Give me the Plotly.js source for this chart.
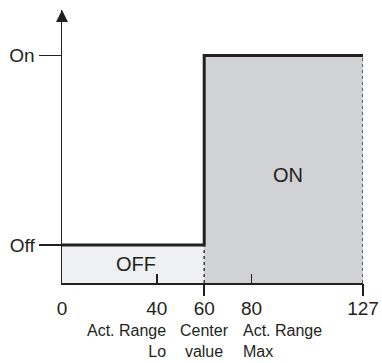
<!DOCTYPE html>
<html>
<head>
<meta charset="utf-8">
<script src="https://cdn.plot.ly/plotly-3.0.1.min.js"></script>
<style>html,body{margin:0;padding:0;background:#fff;}#chart{width:382px;height:363px;}</style>
</head>
<body>
<div id="chart"></div>
<script>
// Data
const stepX = [0, 60, 127];          // Off until the center value, On from there to max
const levelNames = ['Off', 'On'];
const levelValues = [1, 6];           // encoded output levels
const stepY = [levelValues[0], levelValues[1], levelValues[1]];
const tickValues = [0, 40, 60, 80, 127];
const tickLabels = ['0', '40', '60', '80', '127'];
const innerTicks = [40, 80, 127];
const outerTicks = [60, 127];
const offRangeX = [0, 60];
const onRangeX = [60, 127];
const bottomNotes = ['Act. Range<br>Lo', 'Center<br>value', 'Act. Range<br>Max'];
const bottomNoteX = [40, 60, 80];
const yTop = 7.2;

const ink = '#231f20';
const font = 'Liberation Sans, Arial, Helvetica, sans-serif';

const traces = [
  {x: offRangeX, y: [levelValues[0], levelValues[0]], mode: 'lines', fill: 'tozeroy',
   fillcolor: '#eff0f1', line: {width: 0}, hoverinfo: 'skip'},
  {x: onRangeX, y: [levelValues[1], levelValues[1]], mode: 'lines', fill: 'tozeroy',
   fillcolor: '#d1d2d4', line: {width: 0}, hoverinfo: 'skip'},
  {x: [onRangeX[0], onRangeX[0]], y: [0, levelValues[0]], xaxis: 'x2', mode: 'lines',
   line: {color: '#3a3a3a', width: 1.5, dash: 'dot'}, hoverinfo: 'skip'},
  {x: [onRangeX[1], onRangeX[1]], y: [0, levelValues[1]], xaxis: 'x3', mode: 'lines',
   line: {color: '#3a3a3a', width: 1.5, dash: 'dot'}, hoverinfo: 'skip'},
  {x: stepX, y: stepY, mode: 'lines', line: {shape: 'hv', color: ink, width: 3}, hoverinfo: 'skip'},
  {x: [0], y: [yTop], mode: 'markers', cliponaxis: false,
   marker: {symbol: 'arrow-up', size: 12, color: ink}, hoverinfo: 'skip'}
];

const baseX = {range: [0, 127], showgrid: false, zeroline: false, fixedrange: true};

const layout = {
  width: 382, height: 363,
  margin: {l: 62, r: 19, t: 10, b: 80},
  paper_bgcolor: '#fff', plot_bgcolor: 'rgba(0,0,0,0)',
  showlegend: false,
  font: {family: font, color: ink},
  xaxis: Object.assign({}, baseX, {
    showline: true, linecolor: ink, linewidth: 1.5,
    tickvals: tickValues, ticktext: tickLabels, ticks: '',
    ticklabelstandoff: 8, tickfont: {size: 19, color: ink}
  }),
  xaxis2: Object.assign({}, baseX, {
    overlaying: 'x', anchor: 'y', side: 'bottom', showline: false,
    tickvals: innerTicks, ticks: 'inside', ticklen: 9, tickwidth: 1.5, tickcolor: ink,
    showticklabels: false
  }),
  xaxis3: Object.assign({}, baseX, {
    overlaying: 'x', anchor: 'y', side: 'bottom', showline: false,
    tickvals: outerTicks, ticks: 'outside', ticklen: 12, tickwidth: 1.5, tickcolor: ink,
    showticklabels: false
  }),
  yaxis: {
    range: [0, yTop], showgrid: false, zeroline: false, fixedrange: true,
    showline: true, linecolor: ink, linewidth: 1.5,
    tickvals: levelValues, ticktext: levelNames, ticks: 'outside', ticklen: 22,
    tickwidth: 1.5, tickcolor: ink, ticklabelstandoff: 0,
    tickfont: {size: 19, color: ink}
  },
  annotations: [
    {x: 31.3, y: 0.5, xref: 'x', yref: 'y', text: 'OFF', showarrow: false,
     font: {size: 20, color: ink}},
    {x: 95.5, y: 2.85, xref: 'x', yref: 'y', text: 'ON', showarrow: false,
     font: {size: 20, color: ink}}
  ].concat(bottomNotes.map((t, i) => ({
    x: bottomNoteX[i], y: 0, xref: 'x', yref: 'paper', text: t, showarrow: false,
    xanchor: i === 0 ? 'right' : (i === 1 ? 'center' : 'left'),
    align: i === 0 ? 'right' : (i === 1 ? 'center' : 'left'),
    xshift: i === 0 ? 10 : (i === 1 ? 0 : -10),
    yanchor: 'top', yshift: -38, borderpad: 0,
    font: {size: 16, color: ink}
  })))
};

Plotly.newPlot('chart', traces, layout, {displayModeBar: false, staticPlot: true});
</script>
</body>
</html>
